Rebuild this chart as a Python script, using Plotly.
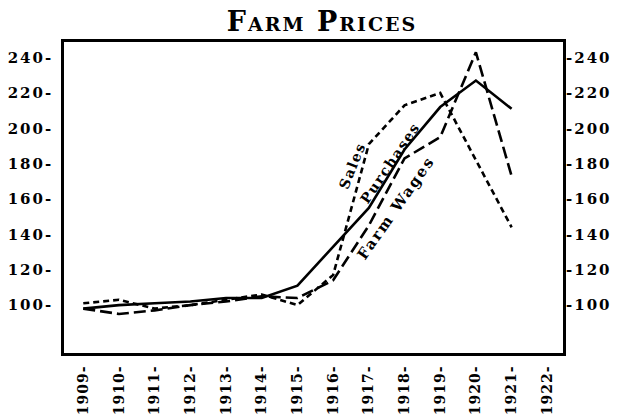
import plotly.graph_objects as go

# Index numbers of farm prices, by year
years = [1909, 1910, 1911, 1912, 1913, 1914, 1915, 1916, 1917, 1918, 1919, 1920, 1921]
purchases = [98, 100, 101, 102, 104, 104, 111, 133, 155, 188, 212, 227, 211]
sales = [101, 103, 98, 100, 103, 106, 100, 117, 191, 213, 220, 182, 144]
farm_wages = [98, 95, 97, 100, 102, 105, 104, 114, 145, 183, 195, 243, 173]

x_ticks = list(range(1909, 1923))
y_ticks = [100, 120, 140, 160, 180, 200, 220, 240]

FONT = "DejaVu Serif"
INK = "black"


def spaced(text, gap=2):
    return f'<span style="letter-spacing:{gap}px">{text}</span>'


fig = go.Figure()

fig.add_trace(go.Scatter(x=years, y=purchases, name="Purchases", mode="lines",
                         line=dict(color=INK, width=2.6)))
fig.add_trace(go.Scatter(x=years, y=sales, name="Sales", mode="lines",
                         line=dict(color=INK, width=2.6, dash="6px,4px")))
fig.add_trace(go.Scatter(x=years, y=farm_wages, name="Farm Wages", mode="lines",
                         line=dict(color=INK, width=2.6, dash="12px,5px")))
# Same series on the right-hand scale so that axis is laid out (not drawn)
fig.add_trace(go.Scatter(x=years, y=purchases, yaxis="y2", mode="lines",
                         line=dict(width=0), hoverinfo="skip", opacity=0))

# Series labels written along the curves
labels = [
    ("Sales", 1916.53, 178.7, -68, 14, 1.5),
    ("Purchases", 1917.59, 180.4, -56, 14, 1.5),
    ("Farm Wages", 1917.76, 154.9, -55, 15, 2),
]
for text, lx, ly, ang, size, gap in labels:
    fig.add_annotation(x=lx, y=ly, text=spaced(text, gap), textangle=ang,
                       showarrow=False, xanchor="center", yanchor="middle",
                       font=dict(family=FONT, size=size, color=INK, weight="bold"))

y_range = [72.9, 248.8]
tick_font = dict(family=FONT, size=15, color=INK, weight="bold")

fig.update_layout(
    width=623, height=415,
    margin=dict(l=64, r=60, t=42, b=62),
    paper_bgcolor="white", plot_bgcolor="white",
    showlegend=False,
    title=dict(text=spaced("Farm Prices", 2), x=0.517, xanchor="center",
               y=0.925, yanchor="bottom",
               font=dict(family=FONT, size=27, color=INK, weight="bold",
                         variant="small-caps")),
    xaxis=dict(range=[1908.46, 1922.44], tickvals=x_ticks,
               ticktext=[spaced(f"{v}-", 1) for v in x_ticks], tickangle=-90,
               showline=True, mirror=True, linewidth=2.6, linecolor=INK,
               showgrid=False, zeroline=False, ticks="", ticklabelstandoff=4,
               automargin=False,
               tickfont=dict(family=FONT, size=14, color=INK, weight="bold")),
    yaxis=dict(range=y_range, tickvals=y_ticks,
               ticktext=[spaced(f"{v}-") for v in y_ticks],
               showline=True, mirror=True, linewidth=2.6, linecolor=INK,
               showgrid=False, zeroline=False, ticks="", ticklabelstandoff=5,
               automargin=False, tickfont=tick_font),
    yaxis2=dict(range=y_range, tickvals=y_ticks, overlaying="y", side="right",
                ticktext=[spaced(f"-{v}") for v in y_ticks],
                showline=False, showgrid=False, zeroline=False, ticks="",
                ticklabelstandoff=2, automargin=False, tickfont=tick_font),
)

fig.write_html("out.html")
